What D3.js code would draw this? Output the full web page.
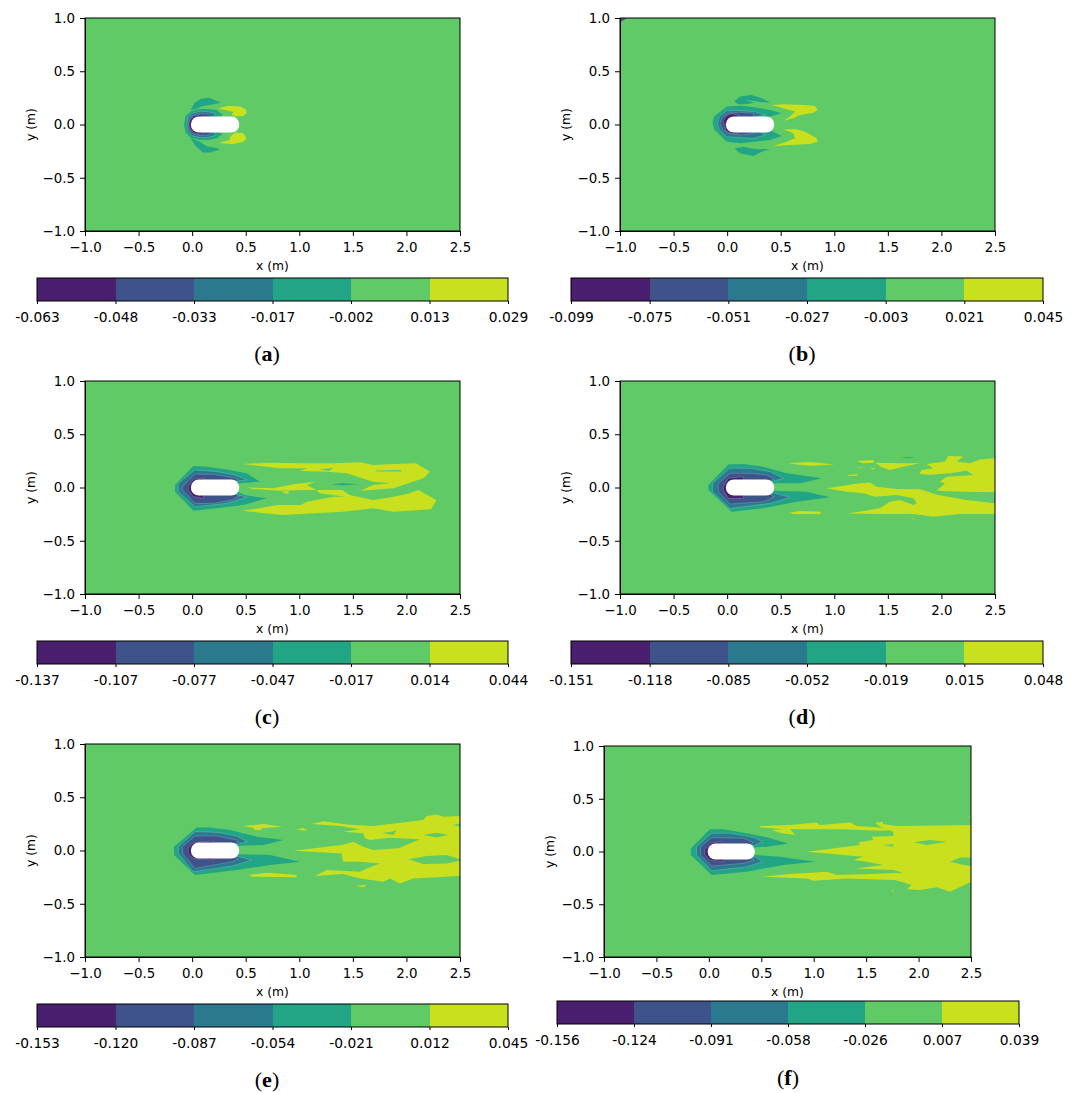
<!DOCTYPE html>
<html>
<head>
<meta charset="utf-8">
<script src="https://cdn.jsdelivr.net/npm/d3@7"></script>
<style>
	html, body { margin: 0; padding: 0; background: #fff; }
	svg { display: block; }
	text { font-family: "DejaVu Sans", sans-serif; fill: #000; }
</style>
</head>
<body>
<div id="chart"></div>
<script>
// tick values shared by every panel
var xTicks = [-1, -0.5, 0, 0.5, 1, 1.5, 2, 2.5];
var yTicks = [-1, -0.5, 0, 0.5, 1];
var bandColors = ['#4a1f6f', '#3e5389', '#2a798e', '#21a585', '#5fca66', '#c9e01f'];

// colorbar tick labels, one list per panel
var ticksA = ['-0.063', '-0.048', '-0.033', '-0.017', '-0.002', '0.013', '0.029'];
var ticksB = ['-0.099', '-0.075', '-0.051', '-0.027', '-0.003', '0.021', '0.045'];
var ticksC = ['-0.137', '-0.107', '-0.077', '-0.047', '-0.017', '0.014', '0.044'];
var ticksD = ['-0.151', '-0.118', '-0.085', '-0.052', '-0.019', '0.015', '0.048'];
var ticksE = ['-0.153', '-0.120', '-0.087', '-0.054', '-0.021', '0.012', '0.045'];
var ticksF = ['-0.156', '-0.124', '-0.091', '-0.058', '-0.026', '0.007', '0.039'];

// plate outline in metres
var plateX = [-0.012, 0.44];
var plateY = [-0.076, 0.076];

// contour regions, [band index, [[x, y], ...]], painted in order
var regionsA = [
	[3, [[-0.015,0.135],[0.02,0.2],[0.075,0.24],[0.16,0.252],[0.27,0.205],[0.2,0.19],[0.14,0.18],[0.075,0.165],[0.03,0.14]]],
	[3, [[-0.015,-0.13],[0.03,-0.2],[0.1,-0.262],[0.17,-0.262],[0.26,-0.232],[0.2,-0.215],[0.14,-0.207],[0.075,-0.165],[0.01,-0.135]]],
	[3, [[-0.075,0],[-0.06,0.08],[-0.01,0.125],[0.07,0.145],[0.15,0.145],[0.23,0.135],[0.285,0.09],[0.24,0.07],[0.24,-0.07],[0.285,-0.09],[0.23,-0.13],[0.15,-0.145],[0.07,-0.145],[-0.01,-0.125],[-0.06,-0.08]]],
	[2, [[-0.05,0],[-0.04,0.06],[0,0.105],[0.08,0.125],[0.15,0.12],[0.22,0.1],[0.2,0.08],[0.2,-0.08],[0.22,-0.1],[0.15,-0.12],[0.08,-0.125],[0,-0.105],[-0.04,-0.06]]],
	[1, [[-0.035,0],[-0.025,0.05],[0.01,0.09],[0.08,0.105],[0.15,0.1],[0.17,0.08],[0.17,-0.08],[0.15,-0.1],[0.08,-0.105],[0.01,-0.09],[-0.025,-0.05]]],
	[0, [[-0.03,0],[-0.02,0.04],[0.02,0.08],[0.08,0.09],[0.1,0.08],[0.1,-0.08],[0.08,-0.09],[0.02,-0.08],[-0.02,-0.04]]],
	[5, [[0.245,0.152],[0.338,0.175],[0.447,0.168],[0.503,0.143],[0.509,0.105],[0.478,0.08],[0.4,0.074],[0.369,0.09],[0.385,0.12],[0.338,0.13],[0.276,0.143]]],
	[5, [[0.26,-0.17],[0.353,-0.145],[0.353,-0.114],[0.4,-0.076],[0.478,-0.083],[0.509,-0.13],[0.478,-0.161],[0.385,-0.183],[0.26,-0.177]]]
];

var regionsB = [
	[1, [[-1,1],[-0.93,1],[-0.97,0.975],[-1,0.96]]],
	[3, [[0.068,0.215],[0.12,0.262],[0.229,0.277],[0.323,0.246],[0.4,0.208],[0.323,0.208],[0.245,0.224],[0.167,0.23],[0.26,0.205],[0.167,0.19],[0.105,0.19]]],
	[3, [[0.068,-0.224],[0.12,-0.27],[0.245,-0.296],[0.323,-0.255],[0.4,-0.23],[0.292,-0.232],[0.214,-0.224],[0.152,-0.208]]],
	[3, [[-0.135,0.017],[-0.122,0.074],[-0.004,0.168],[0.12,0.177],[0.26,0.161],[0.4,0.136],[0.51,0.105],[0.4,0.074],[0.38,0.06],[0.38,-0.04],[0.4,-0.051],[0.51,-0.108],[0.4,-0.145],[0.26,-0.161],[0.12,-0.175],[-0.004,-0.161],[-0.122,-0.045]]],
	[2, [[-0.09,0.012],[-0.072,0.074],[-0.004,0.13],[0.12,0.13],[0.245,0.121],[0.354,0.089],[0.276,0.074],[0.276,-0.05],[0.354,-0.098],[0.245,-0.13],[-0.004,-0.114],[-0.072,-0.05]]],
	[1, [[-0.066,0.012],[-0.041,0.068],[0.012,0.105],[0.12,0.115],[0.245,0.105],[0.245,-0.083],[0.12,-0.098],[0.012,-0.083],[-0.041,-0.045]]],
	[0, [[-0.035,0.03],[-0.01,0.08],[0.04,0.1],[0.1,0.09],[0.1,-0.085],[0.04,-0.085],[-0.01,-0.06]]],
	[5, [[0.416,0.183],[0.525,0.19],[0.727,0.183],[0.82,0.177],[0.845,0.136],[0.805,0.111],[0.68,0.089],[0.618,0.058],[0.525,0.036],[0.587,0.074],[0.634,0.121],[0.556,0.143]]],
	[5, [[0.525,-0.045],[0.649,-0.045],[0.727,-0.067],[0.836,-0.13],[0.845,-0.161],[0.774,-0.183],[0.587,-0.192],[0.432,-0.202],[0.556,-0.161],[0.634,-0.13],[0.618,-0.083]]]
];

var regionsC = [
	[3, [[-0.16,0.023],[0.011,0.202],[0.135,0.196],[0.322,0.17],[0.509,0.133],[0.633,0.055],[0.493,0.045],[0.4,0.03],[0.4,-0.03],[0.493,-0.07],[0.695,-0.102],[0.478,-0.164],[0.229,-0.196],[0.011,-0.218],[-0.16,-0.039]]],
	[2, [[-0.129,0.039],[0.027,0.164],[0.229,0.149],[0.4,0.117],[0.509,0.07],[0.431,0.06],[0.38,0.04],[0.38,-0.04],[0.431,-0.07],[0.509,-0.092],[0.322,-0.149],[0.027,-0.18],[-0.129,-0.039]]],
	[1, [[-0.089,0.008],[0.027,0.124],[0.198,0.124],[0.369,0.095],[0.44,0.07],[0.37,0.05],[0.37,-0.05],[0.44,-0.08],[0.369,-0.117],[0.198,-0.149],[0.027,-0.149],[-0.089,-0.024]]],
	[0, [[-0.036,0.008],[0.011,0.077],[0.104,0.086],[0.104,-0.102],[0.011,-0.086],[-0.036,-0.024]]],
	[5, [[0.47,0.221],[0.73,0.233],[1.01,0.227],[1.32,0.227],[1.57,0.236],[1.69,0.211],[1.88,0.221],[2.09,0.227],[2.22,0.149],[2.16,0.086],[2.06,0.055],[1.88,-0.008],[1.57,-0.03],[1.69,0.023],[1.85,0.039],[1.69,0.055],[1.44,0.133],[1.26,0.149],[1.01,0.155],[1.07,0.18],[0.82,0.18],[0.63,0.202]]],
	[5, [[0.47,-0.218],[0.63,-0.196],[0.79,-0.164],[1.01,-0.164],[1.07,-0.133],[1.32,-0.086],[1.43,-0.086],[1.19,-0.055],[1.16,-0.024],[1.4,-0.024],[1.47,-0.07],[1.69,-0.117],[1.88,-0.086],[2.03,-0.055],[2.11,-0.024],[2.28,-0.117],[2.23,-0.205],[1.88,-0.227],[1.69,-0.196],[1.41,-0.227],[1.1,-0.243],[0.85,-0.258],[0.63,-0.236]]],
	[5, [[0.51,0],[0.76,-0.008],[0.94,0.03],[1.15,0.055],[1.07,0.023],[1.16,-0.024],[1.04,-0.024],[0.82,-0.03],[0.57,-0.014]]],
	[5, [[0.85,-0.035],[0.9,-0.035],[0.9,-0.06],[0.85,-0.05]]],
	[4, [[1.72,0.16],[1.95,0.165],[1.95,0.15],[1.72,0.15]]],
	[4, [[1.19,0.17],[1.32,0.185],[1.28,0.155]]],
	[3, [[1.3,0.03],[1.4,0.04],[1.56,0.03],[1.4,0.02]]]
];

var regionsD = [
	[3, [[-0.175,0.023],[0.011,0.217],[0.151,0.221],[0.338,0.196],[0.556,0.133],[0.882,0.086],[0.68,0.039],[0.431,0.04],[0.39,0.02],[0.39,-0.024],[0.431,-0.03],[0.742,-0.039],[0.96,-0.092],[0.649,-0.133],[0.338,-0.196],[0.042,-0.227],[-0.175,-0.024]]],
	[2, [[-0.135,0.039],[0.021,0.18],[0.213,0.18],[0.4,0.149],[0.525,0.086],[0.447,0.065],[0.38,0.04],[0.38,-0.039],[0.447,-0.055],[0.587,-0.092],[0.4,-0.149],[0.027,-0.196],[-0.135,-0.039]]],
	[1, [[-0.082,0.039],[0.027,0.133],[0.213,0.133],[0.369,0.117],[0.44,0.08],[0.37,0.05],[0.37,-0.05],[0.44,-0.086],[0.338,-0.133],[0.027,-0.155],[-0.082,-0.039]]],
	[0, [[-0.035,0.008],[0.011,0.086],[0.151,0.102],[0.151,-0.102],[0.011,-0.102],[-0.035,-0.024]]],
	[5, [[0.571,0.227],[0.773,0.239],[1.006,0.217],[0.773,0.205],[0.649,0.217]]],
	[5, [[1.209,0.249],[1.364,0.258],[1.37,0.233],[1.271,0.227]]],
	[5, [[1.38,0.233],[1.613,0.227],[1.8,0.227],[1.644,0.196],[1.52,0.164],[1.442,0.189]]],
	[5, [[1.862,0.221],[2.033,0.243],[2.064,0.296],[2.204,0.29],[2.142,0.243],[2.266,0.227],[2.359,0.264],[2.5,0.274],[2.5,-0.045],[2.204,-0.039],[1.955,-0.03],[2.033,0.039],[1.986,0.055],[2.048,0.102],[2.297,0.117],[2.235,0.158],[2.08,0.133],[1.893,0.12],[1.793,0.127],[1.815,0.164],[1.924,0.18]]],
	[5, [[0.929,-0.008],[1.24,0.039],[1.333,0.048],[1.395,0.008],[1.582,-0.014],[1.8,-0.017],[1.97,-0.07],[2.235,-0.117],[2.5,-0.149],[2.5,-0.249],[2.173,-0.249],[1.924,-0.274],[1.737,-0.249],[1.426,-0.249],[1.131,-0.243],[1.426,-0.196],[1.52,-0.133],[1.613,-0.117],[1.737,-0.164],[1.769,-0.149],[1.737,-0.102],[1.582,-0.07],[1.38,-0.086],[1.271,-0.055],[1.115,-0.039]]],
	[5, [[0.58,-0.236],[0.68,-0.221],[0.882,-0.227],[0.866,-0.249],[0.618,-0.249]]],
	[5, [[1.109,0.117],[1.224,0.124],[1.209,0.111],[1.146,0.108]]],
	[5, [[1.33,0.18],[1.38,0.185],[1.37,0.17]]],
	[5, [[1.2,0.19],[1.27,0.19],[1.26,0.183]]],
	[5, [[1.71,-0.29],[1.75,-0.29],[1.75,-0.3]]],
	[3, [[1.61,0.285],[1.76,0.285],[1.7,0.275]]]
];

var regionsE = [
	[3, [[-0.169,0.036],[0.042,0.217],[0.167,0.217],[0.353,0.192],[0.602,0.13],[0.851,0.098],[0.664,0.051],[0.446,0.045],[0.39,0.02],[0.39,-0.02],[0.446,-0.035],[0.726,-0.042],[1.006,-0.105],[0.726,-0.136],[0.415,-0.183],[0.027,-0.23],[-0.169,-0.042]]],
	[2, [[-0.129,0.036],[0.027,0.177],[0.229,0.17],[0.415,0.136],[0.515,0.083],[0.446,0.065],[0.38,0.04],[0.38,-0.04],[0.446,-0.06],[0.555,-0.089],[0.369,-0.146],[0.011,-0.199],[-0.129,-0.027]]],
	[1, [[-0.089,0.036],[0.027,0.136],[0.229,0.136],[0.415,0.098],[0.43,0.078],[0.37,0.05],[0.37,-0.05],[0.43,-0.082],[0.369,-0.105],[0.027,-0.168],[-0.089,-0.027]]],
	[0, [[-0.036,0.02],[0.011,0.073],[0.198,0.089],[0.198,-0.089],[0.011,-0.074],[-0.036,-0.027]]],
	[5, [[0.478,0.23],[0.664,0.249],[0.844,0.224],[0.649,0.208],[0.649,0.192],[0.586,0.192],[0.571,0.211]]],
	[5, [[0.975,0.199],[1.037,0.211],[1.084,0.186],[1.006,0.192]]],
	[5, [[0.944,-0.002],[1.395,0.051],[1.504,0.083],[1.597,0.036],[1.69,0.005],[1.924,0.02],[2.126,0.105],[1.846,0.12],[1.659,0.098],[1.613,0.114],[1.597,0.161],[1.41,0.177],[1.566,0.199],[1.379,0.23],[1.115,0.249],[1.224,0.274],[1.442,0.245],[1.69,0.23],[2.157,0.286],[2.188,0.324],[2.281,0.339],[2.344,0.317],[2.5,0.324],[2.5,-0.24],[2.064,-0.262],[1.939,-0.309],[1.846,-0.262],[1.784,-0.293],[1.566,-0.262],[1.41,-0.221],[1.146,-0.24],[1.255,-0.183],[1.566,-0.199],[1.628,-0.168],[1.753,-0.121],[1.566,-0.105],[1.41,-0.105],[1.395,-0.027]]],
	[5, [[0.524,-0.23],[0.695,-0.208],[0.975,-0.23],[0.975,-0.252],[0.571,-0.246]]],
	[5, [[1.52,-0.33],[1.63,-0.325],[1.6,-0.345]]],
	[4, [[2.017,-0.083],[2.188,-0.052],[2.375,-0.042],[2.5,-0.083],[2.5,-0.096],[2.375,-0.121],[2.157,-0.127]]],
	[4, [[2.157,0.145],[2.281,0.167],[2.39,0.145],[2.281,0.123]]],
	[4, [[1.768,0.161],[1.908,0.186],[1.877,0.145]]],
	[4, [[2.437,0.239],[2.5,0.255],[2.5,0.224]]]
];

var regionsF = [
	[3, [[-0.171,0.03],[0.011,0.21],[0.138,0.21],[0.36,0.172],[0.551,0.134],[0.758,0.077],[0.551,0.046],[0.449,0.04],[0.39,0.02],[0.39,-0.02],[0.449,-0.033],[0.678,-0.049],[1.012,-0.097],[0.71,-0.128],[0.36,-0.191],[0.027,-0.223],[-0.171,-0.033]]],
	[2, [[-0.117,0.046],[0.027,0.172],[0.2,0.172],[0.424,0.134],[0.513,0.093],[0.449,0.065],[0.38,0.04],[0.38,-0.04],[0.449,-0.055],[0.513,-0.097],[0.36,-0.144],[0.027,-0.182],[-0.117,-0.033]]],
	[1, [[-0.078,0.046],[0.027,0.131],[0.329,0.125],[0.424,0.084],[0.37,0.05],[0.37,-0.05],[0.43,-0.08],[0.329,-0.112],[0.027,-0.138],[-0.078,-0.033]]],
	[0, [[-0.037,0.014],[0.011,0.077],[0.122,0.093],[0.138,-0.097],[0.011,-0.081],[-0.037,-0.033]]],
	[5, [[0.933,-0.002],[1.442,0.061],[1.426,0.087],[1.569,0.109],[1.553,0.14],[1.76,0.147],[1.76,0.188],[1.632,0.235],[1.585,0.273],[1.664,0.283],[1.658,0.26],[1.791,0.242],[2.5,0.251],[2.5,-0.286],[2.3,-0.381],[2.173,-0.34],[2.014,-0.365],[1.887,-0.359],[1.935,-0.318],[1.775,-0.27],[1.314,-0.255],[0.996,-0.277],[0.933,-0.255],[0.503,-0.239],[0.774,-0.214],[1.124,-0.191],[1.219,-0.223],[1.537,-0.214],[1.855,-0.201],[1.76,-0.176],[1.394,-0.16],[1.664,-0.128],[1.505,-0.097],[1.378,-0.081],[1.473,-0.049]]],
	[5, [[0.488,0.242],[0.774,0.251],[1.028,0.276],[1.06,0.251],[1.346,0.276],[1.41,0.242],[1.6,0.229],[1.76,0.204],[1.632,0.197],[1.251,0.21],[0.774,0.21],[0.822,0.159],[0.694,0.172],[0.599,0.204],[0.71,0.21],[0.488,0.229]]],
	[5, [[2.46,0.33],[2.5,0.33],[2.5,0.32]]],
	[5, [[1.73,-0.37],[1.77,-0.37],[1.76,-0.38]]],
	[4, [[1.95,0.087],[2.11,0.109],[2.27,0.093],[2.08,0.061]]],
	[4, [[1.66,0.061],[1.76,0.068],[1.76,0.046]]],
	[4, [[2.3,-0.097],[2.395,-0.056],[2.5,-0.056],[2.5,-0.138],[2.43,-0.128]]]
];

// pixel layout of the six panels
var panels = [
	{id: 'a', regions: regionsA, ticks: ticksA, left: 85, right: 460, top: 18, bottom: 231, cbLeft: 37, cbRight: 508, cbTop: 278, capX: 267, capY: 361},
	{id: 'b', regions: regionsB, ticks: ticksB, left: 620, right: 995, top: 18, bottom: 231, cbLeft: 571, cbRight: 1043, cbTop: 278, capX: 802, capY: 361},
	{id: 'c', regions: regionsC, ticks: ticksC, left: 85, right: 460, top: 381, bottom: 594, cbLeft: 37, cbRight: 508, cbTop: 641, capX: 267, capY: 724},
	{id: 'd', regions: regionsD, ticks: ticksD, left: 620, right: 995, top: 381, bottom: 594, cbLeft: 571, cbRight: 1043, cbTop: 641, capX: 802, capY: 724},
	{id: 'e', regions: regionsE, ticks: ticksE, left: 85, right: 460, top: 744, bottom: 957, cbLeft: 37, cbRight: 508, cbTop: 1004, capX: 267, capY: 1087},
	{id: 'f', regions: regionsF, ticks: ticksF, left: 604, right: 971, top: 746, bottom: 957, cbLeft: 557, cbRight: 1019, cbTop: 1001, capX: 788, capY: 1085}
];

function minusFormat(d) {
	return d3.format('.1f')(d).replace('-', '\u2212');
}

function drawPanel(svg, p) {
	var x = d3.scaleLinear().domain([-1, 2.5]).range([p.left, p.right]);
	var y = d3.scaleLinear().domain([-1, 1]).range([p.bottom, p.top]);
	var g = svg.append('g').attr('class', 'panel-' + p.id);

	g.append('clipPath').attr('id', 'clip-' + p.id).append('rect')
		.attr('x', p.left).attr('y', p.top)
		.attr('width', p.right - p.left).attr('height', p.bottom - p.top);

	var plot = g.append('g').attr('clip-path', 'url(#clip-' + p.id + ')');
	plot.append('rect')
		.attr('x', p.left).attr('y', p.top)
		.attr('width', p.right - p.left).attr('height', p.bottom - p.top)
		.attr('fill', bandColors[4]);

	var line = d3.line().x(function(d) { return x(d[0]); }).y(function(d) { return y(d[1]); });
	plot.selectAll('path.region').data(p.regions).enter().append('path')
		.attr('class', 'region')
		.attr('d', function(d) { return line(d[1]) + 'Z'; })
		.attr('fill', function(d) { return bandColors[d[0]]; })
		// the pale seam between neighbouring bands
		.attr('stroke', function(d) { return d[0] < 3 ? 'rgba(255,255,255,0.3)' : 'none'; })
		.attr('stroke-width', 0.6);

	var plateH = y(plateY[0]) - y(plateY[1]);
	plot.append('rect')
		.attr('x', x(plateX[0])).attr('y', y(plateY[1]))
		.attr('width', x(plateX[1]) - x(plateX[0])).attr('height', plateH)
		.attr('rx', plateH / 2)
		.attr('fill', '#fff');

	var xAxis = g.append('g').attr('transform', 'translate(0,' + p.bottom + ')')
		.call(d3.axisBottom(x).tickValues(xTicks).tickFormat(minusFormat).tickSize(5).tickPadding(6));
	var yAxis = g.append('g').attr('transform', 'translate(' + p.left + ',0)')
		.call(d3.axisLeft(y).tickValues(yTicks).tickFormat(minusFormat).tickSize(5).tickPadding(5));
	xAxis.selectAll('text').style('font-size', '13.4px').attr('fill', '#000');
	yAxis.selectAll('text').style('font-size', '13.4px').attr('fill', '#000');

	g.append('rect')
		.attr('x', p.left).attr('y', p.top)
		.attr('width', p.right - p.left).attr('height', p.bottom - p.top)
		.attr('fill', 'none').attr('stroke', '#000').attr('stroke-width', 1);

	g.append('text').attr('x', (p.left + p.right) / 2).attr('y', p.bottom + 39)
		.attr('text-anchor', 'middle').style('font-size', '12.3px').text('x (m)');
	g.append('text')
		.attr('transform', 'translate(' + (p.left - 50) + ',' + (p.top + p.bottom) / 2 + ') rotate(-90)')
		.attr('text-anchor', 'middle').style('font-size', '12.3px').text('y (m)');

	// colorbar, one box between each pair of tick labels
	var cbHeight = 23;
	var cb = d3.scalePoint().domain(p.ticks).range([p.cbLeft, p.cbRight]);
	g.selectAll('rect.box').data(p.ticks.slice(0, -1)).enter().append('rect')
		.attr('class', 'box')
		.attr('x', function(d) { return cb(d); })
		.attr('y', p.cbTop)
		.attr('width', cb.step())
		.attr('height', cbHeight)
		.attr('shape-rendering', 'crispEdges')
		.attr('fill', function(d, i) { return bandColors[i]; });
	g.append('rect')
		.attr('x', p.cbLeft).attr('y', p.cbTop)
		.attr('width', p.cbRight - p.cbLeft).attr('height', cbHeight)
		.attr('fill', 'none').attr('stroke', '#000').attr('stroke-width', 1);
	var cbAxis = g.append('g').attr('transform', 'translate(0,' + (p.cbTop + cbHeight) + ')')
		.call(d3.axisBottom(cb).tickSize(3).tickPadding(8));
	cbAxis.select('.domain').remove();
	cbAxis.selectAll('text').style('font-size', '13.8px').attr('fill', '#000');

	var cap = g.append('text').attr('x', p.capX).attr('y', p.capY)
		.attr('text-anchor', 'middle')
		.style('font-family', '"Liberation Serif", serif').style('font-size', '22px');
	cap.append('tspan').text('(');
	cap.append('tspan').style('font-weight', 'bold').text(p.id);
	cap.append('tspan').text(')');
}

function init() {
	var svg = d3.select('#chart').append('svg').attr('width', 1078).attr('height', 1093);
	panels.forEach(function(p) {
		drawPanel(svg, p);
	});
}

document.addEventListener('DOMContentLoaded', init, false);
</script>
</body>
</html>
